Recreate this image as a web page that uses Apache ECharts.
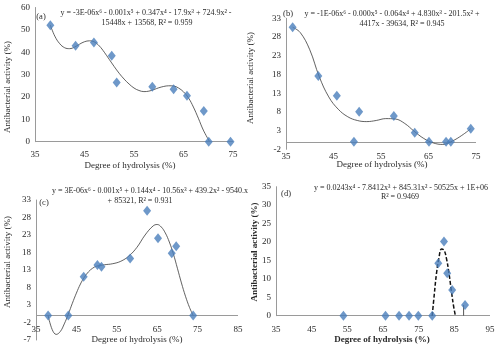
<!DOCTYPE html>
<html>
<head>
<meta charset="utf-8">
<script src="https://cdn.jsdelivr.net/npm/echarts@6/dist/echarts.min.js"></script>
<style>
  html, body { margin: 0; padding: 0; background: #fff; }
  #chart { width: 500px; height: 349px; }
</style>
</head>
<body>
<div id="chart"></div>
<script>
// Panel (a): measured points and trend curve
const hydA = [38.1, 43.2, 46.9, 50.5, 51.5, 58.7, 63.0, 65.7, 69.1, 70.1, 74.5];
const actA = [52.1, 42.9, 44.4, 38.4, 26.5, 24.6, 23.5, 20.5, 13.7, 0, 0];
const fitAx = [38.1, 39, 40, 41, 42, 43, 44, 45, 46, 47, 48, 49, 50, 51, 52, 53, 54, 55, 56, 57, 58, 59, 60, 61, 62, 63, 64, 65, 66, 67, 68, 69, 70.2];
const fitAy = [52.1, 47.2, 43.8, 42.0, 41.6, 42.3, 43.6, 44.7, 45.1, 44.6, 42.8, 40.0, 36.8, 33.6, 30.6, 28.0, 25.8, 24.0, 22.9, 22.4, 22.6, 23.3, 24.1, 24.7, 25.0, 24.9, 24.0, 22.3, 19.6, 15.5, 10.5, 5.2, 0.3];

// Panel (b)
const hydB = [36.4, 41.8, 45.7, 49.3, 50.4, 57.7, 62.1, 65.1, 68.7, 69.7, 73.9];
const actB = [30.6, 17.6, 12.3, 0, 8.0, 6.9, 2.4, 0, 0, 0, 3.5];
const fitBx = [36.4, 38, 40, 42, 44, 46, 48, 50, 52, 54, 56, 58, 60, 62, 64, 66, 68, 70, 72, 73.9];
const fitBy = [30.6, 29.2, 24.6, 17.4, 12.0, 8.7, 6.7, 5.7, 5.4, 5.7, 6.2, 6.1, 4.9, 2.8, 0.9, -0.3, -0.7, 0.2, 1.7, 3.5];

// Panel (c)
const hydC = [38.0, 43.0, 46.8, 50.2, 51.2, 58.3, 62.5, 65.2, 68.6, 69.7, 73.9];
const actC = [0, 0, 11.1, 14.4, 13.9, 16.3, 29.9, 22.1, 17.8, 19.8, 0];
const fitCx = [38, 39, 40, 41, 42, 43, 44, 45, 46, 47, 48, 49, 50, 52, 54, 56, 58, 60, 62, 64, 65, 66, 67, 68, 69, 70, 71, 72, 73, 73.9];
const fitCy = [0, -4.0, -5.4, -4.6, -2.4, 0.4, 3.5, 6.4, 9.0, 11.0, 12.5, 13.5, 14.1, 14.5, 14.8, 15.5, 17.0, 19.5, 23.0, 25.6, 26.0, 25.3, 23.6, 21.0, 17.6, 13.5, 9.3, 5.5, 2.3, 0];

// Panel (d)
const hydD = [53.9, 65.7, 69.5, 72.3, 74.9, 78.8, 80.5, 82.1, 83.0, 84.4, 88.0];
const actD = [0, 0, 0, 0, 0, 0, 14.2, 20.1, 11.5, 7.0, 2.9];
const fitDx = [78.8, 79.4, 80, 80.7, 81.4, 82.1, 82.8, 83.5, 84.2, 84.8, 85.3];
const fitDy = [0, 6.0, 11.5, 15.8, 18.1, 17.8, 15.5, 11.5, 6.5, 2.5, 0];

// Axis ranges and equation captions
const xTicksA = { min: 35, max: 75, interval: 10 };
const yTicksA = { min: 0, max: 60, interval: 10 };
const xTicksB = { min: 35, max: 75, interval: 10 };
const yTicksB = { min: -2, max: 33, interval: 5 };
const xTicksC = { min: 35, max: 85, interval: 10 };
const yTicksC = { min: -7, max: 33, interval: 5 };
const xTicksD = { min: 35, max: 95, interval: 10 };
const yTicksD = { min: 0, max: 35, interval: 5 };

const eqA = ['y = -3E-06x⁶ - 0.001x⁵ + 0.347x⁴ - 17.9x³ + 724.9x² -', '15448x + 13568, R² = 0.959'];
const eqB = ['y = -1E-06x⁶ - 0.000x⁵ - 0.064x⁴ + 4.830x³ - 201.5x² +', '4417x - 39634, R² = 0.945'];
const eqC = ['y = 3E-06x⁶ - 0.001x⁵ + 0.144x⁴ - 10.56x³ + 439.2x² - 9540.x', '+ 85321, R² = 0.931'];
const eqD = ['y = 0.0243x⁴ - 7.8412x³ + 845.31x² - 50525x + 1E+06', 'R² = 0.9469'];

const FONT = 'Liberation Serif';
const TXT = '#2a2a2a';
const AXIS = '#9a9a9a';
const BLUE = '#4a7ebb';

function pairs(xs, ys) { return xs.map((x, i) => [x, ys[i]]); }

// x labels sit next to the zero line, so the axis line itself is drawn as a y = 0 mark line
function xAxisCfg(idx, t, margin) {
  return {
    type: 'value', gridIndex: idx, min: t.min, max: t.max, interval: t.interval,
    axisLine: { show: false, onZero: false },
    axisTick: { show: false }, splitLine: { show: false },
    axisLabel: { fontFamily: FONT, fontSize: 9, color: TXT, margin: margin }
  };
}
function yAxisCfg(idx, t) {
  return {
    type: 'value', gridIndex: idx, min: t.min, max: t.max, interval: t.interval,
    axisLine: { show: true, onZero: false, lineStyle: { color: AXIS, width: 1 } },
    axisTick: { show: false }, splitLine: { show: false },
    axisLabel: { fontFamily: FONT, fontSize: 9, color: TXT, margin: 5 }
  };
}
function pointSeries(idx, xs, ys) {
  return {
    type: 'scatter', xAxisIndex: idx, yAxisIndex: idx, data: pairs(xs, ys),
    symbol: 'diamond', symbolSize: [8, 10], itemStyle: { color: BLUE }, z: 5,
    markLine: {
      silent: true, symbol: 'none', label: { show: false },
      lineStyle: { color: AXIS, width: 1, type: 'solid' },
      data: [{ yAxis: 0 }], z: 1
    }
  };
}
function curveSeries(idx, xs, ys, style) {
  return {
    type: 'line', xAxisIndex: idx, yAxisIndex: idx, data: pairs(xs, ys),
    smooth: 0.4, showSymbol: false, symbol: 'none', lineStyle: style, z: 3
  };
}
function text(x, y, str, opts) {
  return Object.assign({
    type: 'text', x: x, y: y,
    style: Object.assign({ text: str, fontFamily: FONT, fontSize: 8, fill: TXT, align: 'center', verticalAlign: 'middle' }, (opts && opts.style) || {})
  }, opts && opts.rotation !== undefined ? { rotation: opts.rotation } : {});
}
const ROT = Math.PI / 2;
const EQ = { style: { fontSize: 8 } };

const option = {
  animation: false,
  textStyle: { fontFamily: FONT },
  grid: [
    { left: 35, top: 7.5, width: 198, height: 134.2, outerBoundsMode: 'none', containLabel: false },
    { left: 286, top: 18.3, width: 190, height: 131, outerBoundsMode: 'none', containLabel: false },
    { left: 36, top: 200, width: 202, height: 140, outerBoundsMode: 'none', containLabel: false },
    { left: 276, top: 186.7, width: 214, height: 129, outerBoundsMode: 'none', containLabel: false }
  ],
  xAxis: [xAxisCfg(0, xTicksA, 8), xAxisCfg(1, xTicksB, 3), xAxisCfg(2, xTicksC, -15), xAxisCfg(3, xTicksD, 9)],
  yAxis: [yAxisCfg(0, yTicksA), yAxisCfg(1, yTicksB), yAxisCfg(2, yTicksC), yAxisCfg(3, yTicksD)],
  series: [
    curveSeries(0, fitAx, fitAy, { color: '#3a3a3a', width: 0.8 }),
    pointSeries(0, hydA, actA),
    curveSeries(1, fitBx, fitBy, { color: '#3a3a3a', width: 0.8 }),
    pointSeries(1, hydB, actB),
    curveSeries(2, fitCx, fitCy, { color: '#3a3a3a', width: 0.8 }),
    pointSeries(2, hydC, actC),
    curveSeries(3, fitDx, fitDy, { color: '#111', width: 1.5, type: [4, 2] }),
    {
      // drop line under the last point of panel (d)
      type: 'line', xAxisIndex: 3, yAxisIndex: 3, showSymbol: false, symbol: 'none',
      data: [[hydD[hydD.length - 1] - 0.4, 0], [hydD[hydD.length - 1] - 0.4, actD[actD.length - 1]]],
      lineStyle: { color: '#555', width: 1 }, z: 2
    },
    pointSeries(3, hydD, actD)
  ],
  graphic: [
    // panel labels
    text(41, 17, '(a)', { style: { fontSize: 8.5 } }),
    text(288, 13.5, '(b)', { style: { fontSize: 8.5 } }),
    text(44, 203, '(c)', { style: { fontSize: 8.5 } }),
    text(286, 194, '(d)', { style: { fontSize: 8.5 } }),
    // trend equations
    text(146, 12.5, eqA[0], EQ),
    text(147, 22.5, eqA[1], EQ),
    text(392, 13.5, eqB[0], EQ),
    text(402, 24, eqB[1], EQ),
    text(150, 191, eqC[0], EQ),
    text(140, 200.5, eqC[1], EQ),
    text(401, 187.5, eqD[0], EQ),
    text(400, 196.5, eqD[1], EQ),
    // axis titles
    text(8, 87, 'Antibacterial activity (%)', { rotation: ROT, style: { fontSize: 9 } }),
    text(251, 78, 'Antibacterial activity (%)', { rotation: ROT, style: { fontSize: 9 } }),
    text(8, 262, 'Antibacterial activity (%)', { rotation: ROT, style: { fontSize: 9 } }),
    text(255, 252, 'Antibacterial activity (%)', { rotation: ROT, style: { fontSize: 9, fontWeight: 'bold' } }),
    text(130, 166, 'Degree of hydrolysis (%)', { style: { fontSize: 9 } }),
    text(382, 165, 'Degree of hydrolysis (%)', { style: { fontSize: 9 } }),
    text(137, 339.5, 'Degree of hydrolysis (%)', { style: { fontSize: 9 } }),
    text(382, 339.5, 'Degree of hydrolysis (%)', { style: { fontSize: 9, fontWeight: 'bold' } })
  ]
};

const chart = echarts.init(document.getElementById('chart'), null, { renderer: 'canvas' });
chart.setOption(option);
</script>
</body>
</html>
